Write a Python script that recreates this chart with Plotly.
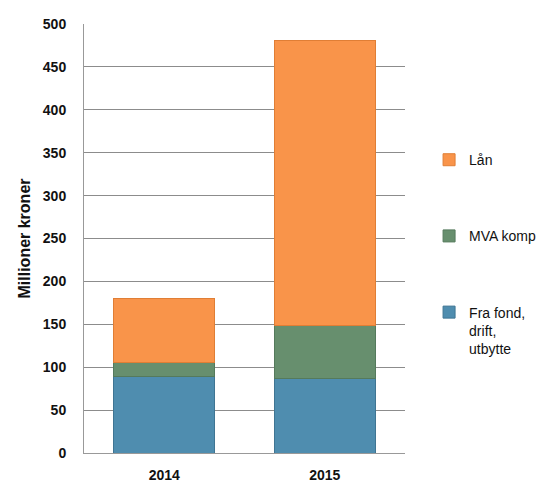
import plotly.graph_objects as go

years = ["2014", "2015"]
fra_fond = [89, 87]
mva_komp = [16, 62]
laan = [75, 332]
series_names = ["Fra fond,<br>drift,<br>utbytte", "MVA komp", "Lån"]
y_ticks = [0, 50, 100, 150, 200, 250, 300, 350, 400, 450, 500]

colors = ["#4F8DAF", "#678F6E", "#F9944A"]
lines = ["#3F7593", "#557A5C", "#E07E35"]
ranks = [3, 2, 1]

fig = go.Figure()
for name, vals, c, lc, rk in zip(series_names, [fra_fond, mva_komp, laan], colors, lines, ranks):
    fig.add_trace(go.Bar(
        x=years, y=vals, name=name, legendgroup=name, legendrank=rk,
        marker=dict(color=c, line=dict(color=lc, width=1)),
    ))

fig.update_layout(
    barmode="stack",
    bargap=0.37,
    width=545, height=483,
    margin=dict(l=76, r=148, t=16, b=38, autoexpand=False),
    plot_bgcolor="white", paper_bgcolor="white",
    font=dict(family="Liberation Sans, Arial, sans-serif", size=14, color="#111"),
    showlegend=True,
    legend=dict(
        traceorder="grouped", tracegroupgap=55, valign="top",
        x=1.075, xanchor="left", y=0.72, yanchor="top",
        font=dict(size=14, color="#111"),
        itemwidth=30,
    ),
    xaxis=dict(
        showline=True, linecolor="#999", linewidth=1, automargin=False,
        tickfont=dict(size=14, color="#111", weight="bold"),
        ticks="", ticklabelstandoff=9,
    ),
    yaxis=dict(
        range=[0, 500], tickvals=y_ticks, automargin=False,
        showgrid=True, gridcolor="#8c8c8c", gridwidth=1,
        showline=True, linecolor="#999", linewidth=1,
        ticks="", ticklabelstandoff=14,
        tickfont=dict(size=14, color="#111", weight="bold"),
        title=dict(text="<b>Millioner kroner</b>", font=dict(size=16, color="#111"), standoff=8),
        zeroline=False,
    ),
)

fig.write_html("out.html")
